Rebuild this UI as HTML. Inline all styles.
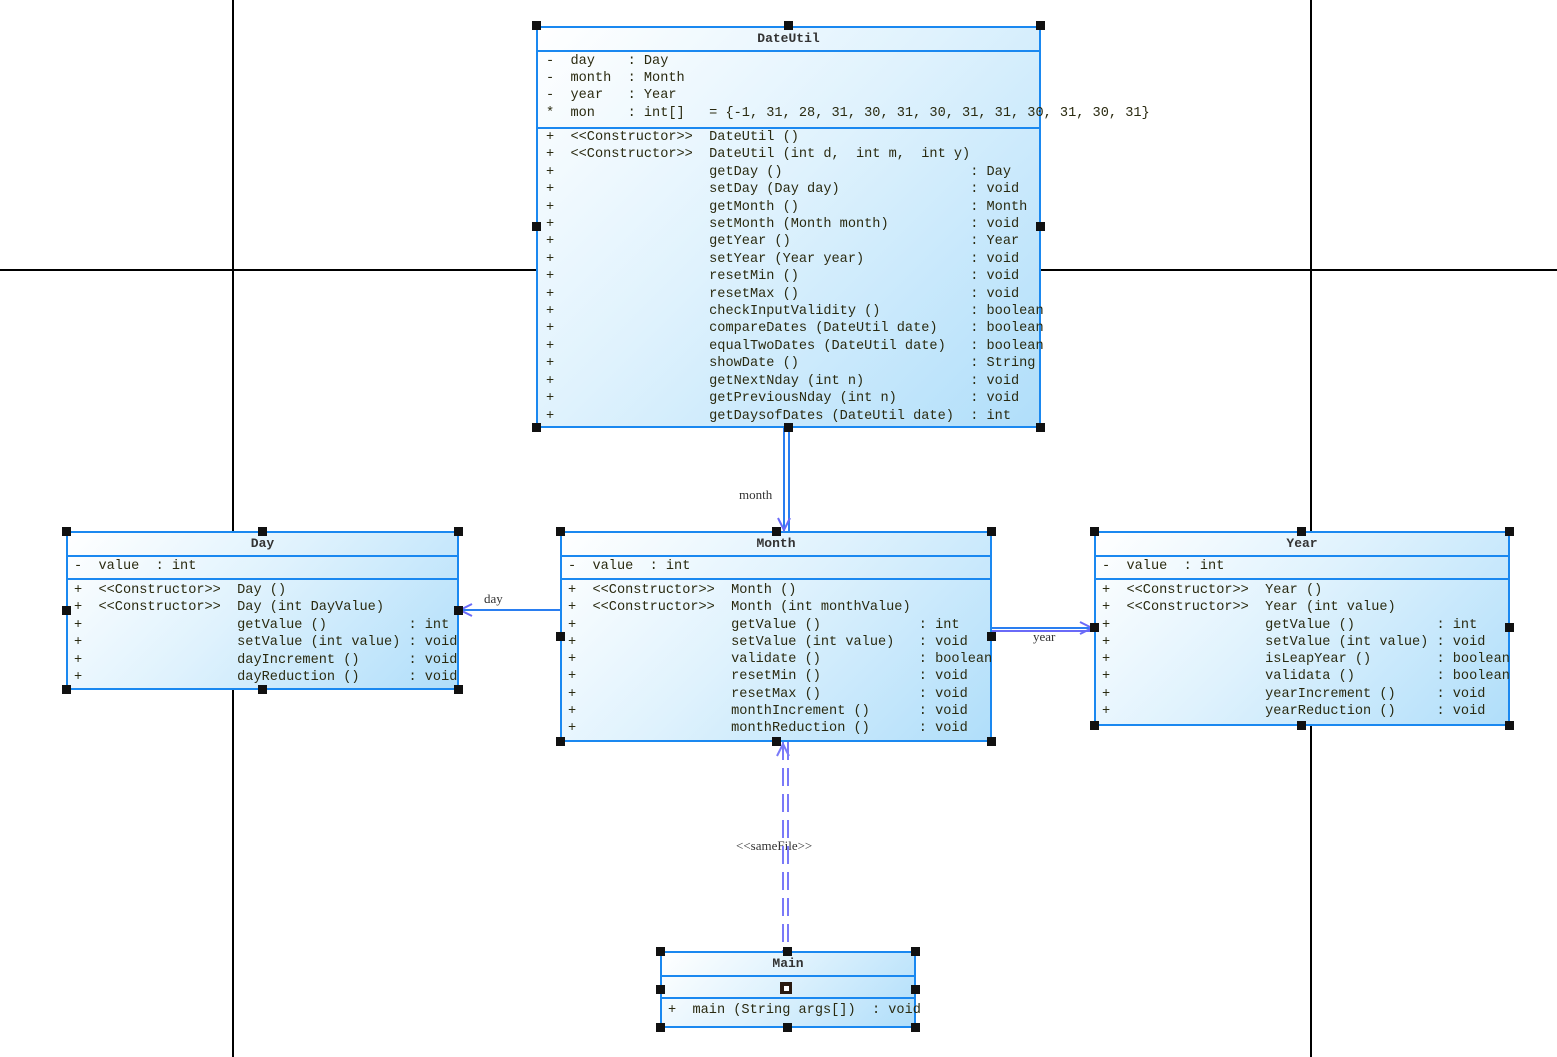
<!DOCTYPE html>
<html><head><meta charset="utf-8"><style>
body{margin:0;width:1557px;height:1057px;background:#fff;position:relative;overflow:hidden;font-family:"Liberation Mono",monospace}
.bx{position:absolute;border:2px solid #1a88f0;box-sizing:border-box;background:linear-gradient(135deg,#ffffff 0%,#dff2fd 45%,#b0defa 100%)}
.sep{position:absolute;left:0;right:0;height:2px;background:#1a88f0}
pre{position:absolute;margin:0;font-family:"Liberation Mono",monospace;font-size:13.6px;line-height:17.4px;color:#2a2a10;white-space:pre}
.t{position:absolute;left:0;right:0;text-align:center;font-size:13px;font-weight:bold;color:#333}
.l{position:absolute;font-size:13px;color:#333;font-family:"Liberation Serif",serif}
</style></head><body>
<svg width="1557" height="1057" style="position:absolute;left:0;top:0">
<line x1="233" y1="0" x2="233" y2="1057" stroke="#000" stroke-width="2"/>
<line x1="1311" y1="0" x2="1311" y2="1057" stroke="#000" stroke-width="2"/>
<line x1="0" y1="270" x2="1557" y2="270" stroke="#000" stroke-width="2"/>
</svg>

<!-- DateUtil -->
<div class="bx" style="left:536px;top:26px;width:505px;height:402px">
<div class="t" style="top:3px">DateUtil</div>
<div class="sep" style="top:22px"></div>
<pre style="left:8px;top:25px;line-height:17.2px">-  day    : Day
-  month  : Month
-  year   : Year
*  mon    : int[]   = {-1, 31, 28, 31, 30, 31, 30, 31, 31, 30, 31, 30, 31}</pre>
<div class="sep" style="top:99px"></div>
<pre style="left:8px;top:101px">+  &lt;&lt;Constructor&gt;&gt;  DateUtil ()
+  &lt;&lt;Constructor&gt;&gt;  DateUtil (int d,  int m,  int y)
+                   getDay ()                       : Day
+                   setDay (Day day)                : void
+                   getMonth ()                     : Month
+                   setMonth (Month month)          : void
+                   getYear ()                      : Year
+                   setYear (Year year)             : void
+                   resetMin ()                     : void
+                   resetMax ()                     : void
+                   checkInputValidity ()           : boolean
+                   compareDates (DateUtil date)    : boolean
+                   equalTwoDates (DateUtil date)   : boolean
+                   showDate ()                     : String
+                   getNextNday (int n)             : void
+                   getPreviousNday (int n)         : void
+                   getDaysofDates (DateUtil date)  : int</pre>
</div>

<!-- Day -->
<div class="bx" style="left:66px;top:531px;width:393px;height:159px">
<div class="t" style="top:3px">Day</div>
<div class="sep" style="top:22px"></div>
<pre style="left:6px;top:25px">-  value  : int</pre>
<div class="sep" style="top:45px"></div>
<pre style="left:6px;top:49px">+  &lt;&lt;Constructor&gt;&gt;  Day ()
+  &lt;&lt;Constructor&gt;&gt;  Day (int DayValue)
+                   getValue ()          : int
+                   setValue (int value) : void
+                   dayIncrement ()      : void
+                   dayReduction ()      : void</pre>
</div>

<!-- Month -->
<div class="bx" style="left:560px;top:531px;width:432px;height:211px">
<div class="t" style="top:3px">Month</div>
<div class="sep" style="top:22px"></div>
<pre style="left:6px;top:25px">-  value  : int</pre>
<div class="sep" style="top:45px"></div>
<pre style="left:6px;top:49px;line-height:17.25px">+  &lt;&lt;Constructor&gt;&gt;  Month ()
+  &lt;&lt;Constructor&gt;&gt;  Month (int monthValue)
+                   getValue ()            : int
+                   setValue (int value)   : void
+                   validate ()            : boolean
+                   resetMin ()            : void
+                   resetMax ()            : void
+                   monthIncrement ()      : void
+                   monthReduction ()      : void</pre>
</div>

<!-- Year -->
<div class="bx" style="left:1094px;top:531px;width:416px;height:195px">
<div class="t" style="top:3px">Year</div>
<div class="sep" style="top:22px"></div>
<pre style="left:6px;top:25px">-  value  : int</pre>
<div class="sep" style="top:45px"></div>
<pre style="left:6px;top:49px;line-height:17.3px">+  &lt;&lt;Constructor&gt;&gt;  Year ()
+  &lt;&lt;Constructor&gt;&gt;  Year (int value)
+                   getValue ()          : int
+                   setValue (int value) : void
+                   isLeapYear ()        : boolean
+                   validata ()          : boolean
+                   yearIncrement ()     : void
+                   yearReduction ()     : void</pre>
</div>

<!-- Main -->
<div class="bx" style="left:660px;top:951px;width:256px;height:77px">
<div class="t" style="top:3px">Main</div>
<div class="sep" style="top:22px"></div>
<div style="position:absolute;left:118px;top:29px;width:12px;height:12px;background:#2a1a10"><div style="position:absolute;left:4px;top:4px;width:5px;height:5px;background:#fff"></div></div>
<div class="sep" style="top:44px"></div>
<pre style="left:6px;top:49px">+  main (String args[])  : void</pre>
</div>

<div class="l" style="left:739px;top:487px">month</div>
<div class="l" style="left:484px;top:591px">day</div>
<div class="l" style="left:1033px;top:629px">year</div>
<div class="l" style="left:736px;top:838px">&lt;&lt;sameFile&gt;&gt;</div>

<svg width="1557" height="1057" style="position:absolute;left:0;top:0">
<g stroke="#2a7ef0" stroke-width="2" fill="none">
<line x1="784" y1="428" x2="784" y2="531"/>
<line x1="789" y1="428" x2="789" y2="531"/>
<polyline points="778,518 784,530 790,518" stroke="#6a6af8"/>
<line x1="560" y1="610" x2="459" y2="610"/>
<polyline points="472,604 460,610 472,616" stroke="#6a6af8"/>
<line x1="992" y1="628" x2="1094" y2="628"/>
<line x1="992" y1="631" x2="1094" y2="631" stroke="#6a6af8"/>
<polyline points="1080,622 1092,628 1080,634" stroke="#6a6af8"/>
<line x1="783" y1="742" x2="783" y2="951" stroke-dasharray="18,8" stroke="#7a7af8"/>
<line x1="788" y1="742" x2="788" y2="951" stroke-dasharray="18,8" stroke="#7a7af8"/>
<polyline points="777,756 783,744 789,756" stroke="#7a7af8"/>
</g>
<g fill="#111">
<!-- DateUtil handles -->
<rect x="532" y="21" width="9" height="9"/><rect x="784" y="21" width="9" height="9"/><rect x="1036" y="21" width="9" height="9"/>
<rect x="532" y="222" width="9" height="9"/><rect x="1036" y="222" width="9" height="9"/>
<rect x="532" y="423" width="9" height="9"/><rect x="784" y="423" width="9" height="9"/><rect x="1036" y="423" width="9" height="9"/>
<!-- Day -->
<rect x="62" y="527" width="9" height="9"/><rect x="258" y="527" width="9" height="9"/><rect x="454" y="527" width="9" height="9"/>
<rect x="62" y="606" width="9" height="9"/><rect x="454" y="606" width="9" height="9"/>
<rect x="62" y="685" width="9" height="9"/><rect x="258" y="685" width="9" height="9"/><rect x="454" y="685" width="9" height="9"/>
<!-- Month -->
<rect x="556" y="527" width="9" height="9"/><rect x="772" y="527" width="9" height="9"/><rect x="987" y="527" width="9" height="9"/>
<rect x="556" y="632" width="9" height="9"/><rect x="987" y="632" width="9" height="9"/>
<rect x="556" y="737" width="9" height="9"/><rect x="772" y="737" width="9" height="9"/><rect x="987" y="737" width="9" height="9"/>
<!-- Year -->
<rect x="1090" y="527" width="9" height="9"/><rect x="1297" y="527" width="9" height="9"/><rect x="1505" y="527" width="9" height="9"/>
<rect x="1090" y="623" width="9" height="9"/><rect x="1505" y="623" width="9" height="9"/>
<rect x="1090" y="721" width="9" height="9"/><rect x="1297" y="721" width="9" height="9"/><rect x="1505" y="721" width="9" height="9"/>
<!-- Main -->
<rect x="656" y="947" width="9" height="9"/><rect x="783" y="947" width="9" height="9"/><rect x="911" y="947" width="9" height="9"/>
<rect x="656" y="985" width="9" height="9"/><rect x="911" y="985" width="9" height="9"/>
<rect x="656" y="1023" width="9" height="9"/><rect x="783" y="1023" width="9" height="9"/><rect x="911" y="1023" width="9" height="9"/>
</g>
</svg>
</body></html>
